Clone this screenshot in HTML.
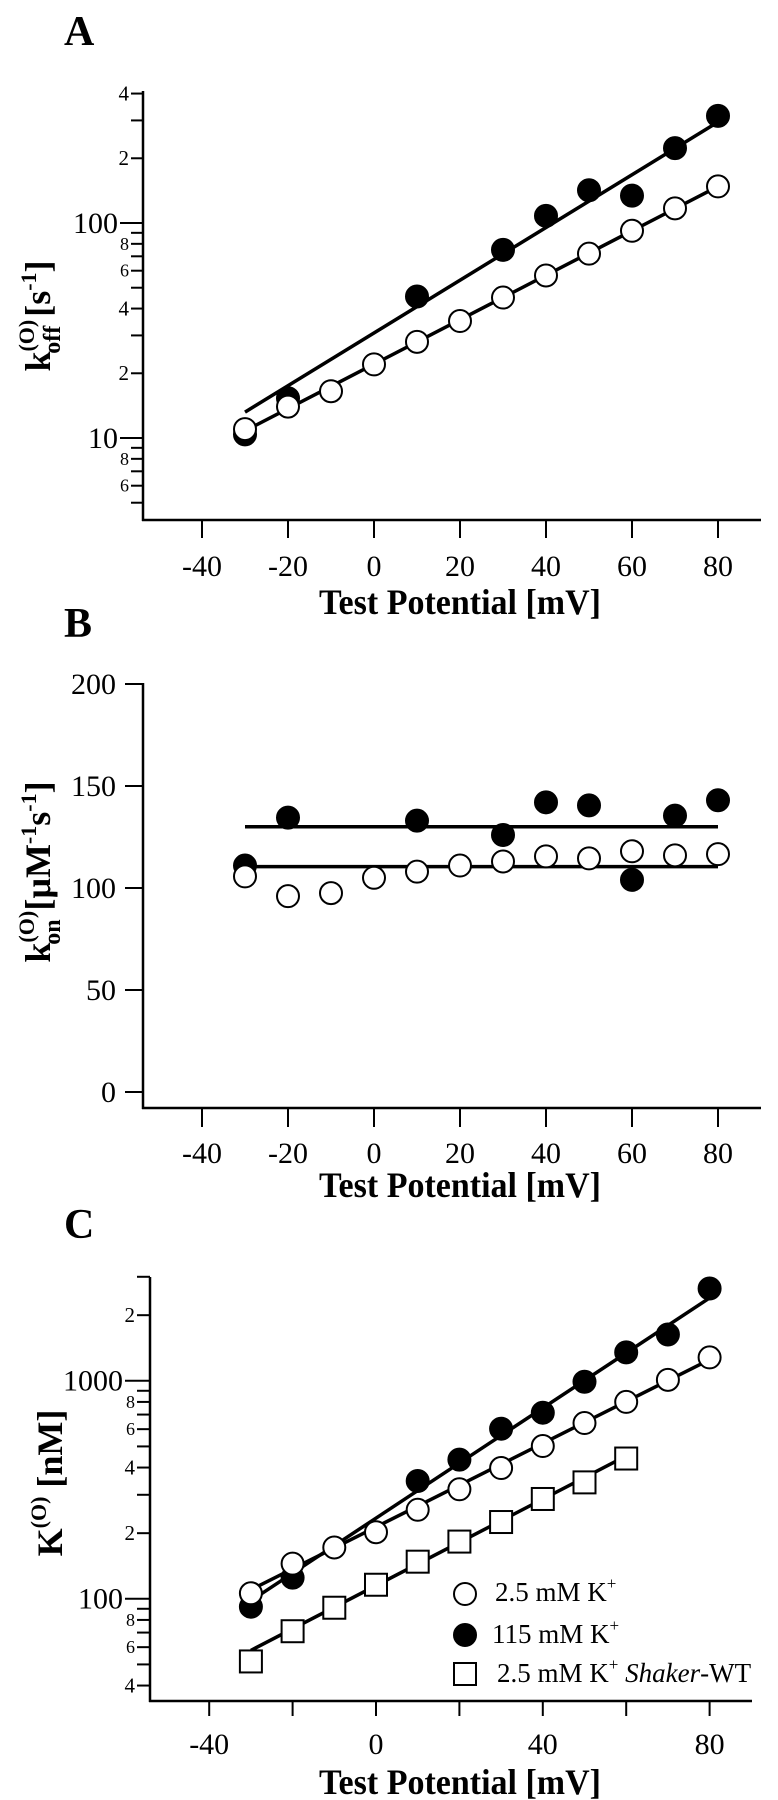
<!DOCTYPE html>
<html><head><meta charset="utf-8"><style>
html,body{margin:0;padding:0;background:#fff;}
svg{display:block;font-family:"Liberation Serif",serif;}
</style></head><body>
<svg id="fig" width="778" height="1800" viewBox="0 0 778 1800" xmlns="http://www.w3.org/2000/svg"></svg>
<script>
// ---- Data ----
const potentials = [-30,-20,-10,0,10,20,30,40,50,60,70,80];
const aOpenVals = [11,14,16.5,22,28,35,45,57,72,92,117,148];
const aFilledX = [-30,-20,10,30,40,50,60,70,80];
const aFilledVals = [10.4,15.3,45.5,75,108,142,134,223,315];
const aOpenFit = [10.8,148];
const aFilledFit = [13.2,295];
const aYTicks = [400,300,200,100,90,80,70,60,50,40,30,20,10,9,8,7,6,5];
const aYLabels = {400:"4",200:"2",100:"100",80:"8",60:"6",40:"4",20:"2",10:"10",8:"8",6:"6"};

const bOpenVals = [105.7,96,97.5,105,108,111,113,115.5,114.5,118,116,116.6];
const bFilledX = [-30,-20,10,30,40,50,60,70,80];
const bFilledVals = [111,134.5,133,126,142,140.5,104,135.5,143];
const bFits = [130,110.5];
const bYTicks = [0,50,100,150,200];

const cOpenVals = [106,145,172,202,256,318,398,502,640,800,1010,1280];
const cFilledX = [-30,-20,10,20,30,40,50,60,70,80];
const cFilledVals = [92,125,347,435,603,714,990,1350,1630,2650];
const cSquareX = [-30,-20,-10,0,10,20,30,40,50,60];
const cSquareVals = [51.6,71,91,116,148,183,225,287,342,440];
const cOpenFit = [110,1250];
const cFilledFit = [98,2400];
const cSquareFit = [58,452];
const cYTicks = [3000,2000,1000,900,800,700,600,500,400,300,200,100,90,80,70,60,50,40];
const cYLabels = {2000:"2",1000:"1000",800:"8",600:"6",400:"4",200:"2",100:"100",80:"8",60:"6",40:"4"};

const xTicksAB = [-40,-20,0,20,40,60,80];
const xTicksC = [-40,-20,0,20,40,60,80];
const xLabelsC = [-40,0,40,80];

const NS="http://www.w3.org/2000/svg";
const svg=document.getElementById('fig');
function el(tag,attrs,parent){const e=document.createElementNS(NS,tag);for(const k in attrs)e.setAttribute(k,attrs[k]);(parent||svg).appendChild(e);return e;}

// ---- axis functions ----
const xA=v=>374+4.3*v;
const yA=v=>438-215*Math.log10(v/10);
const yB=v=>1092-2.04*v;
const xC=v=>376+4.17*v;
const yC=v=>1598.8-218*Math.log10(v/100);

function line(x1,y1,x2,y2,w,name,g){const l=el('line',{x1,y1,x2,y2,stroke:'#000','stroke-width':w},g);return l;}
function txt(x,y,s,size,anchor,name,g,bold){const t=el('text',{x,y,'font-size':size,'text-anchor':anchor||'start','font-weight':bold?'bold':'normal'},g);t.textContent=s;return t;}
function circ(x,y,filled,name,g){const c=el('circle',{cx:x,cy:y,r:11,fill:filled?'#000':'#fff',stroke:'#000','stroke-width':2},g);return c;}
function sq(x,y,name,g){const r=el('rect',{x:x-11,y:y-11,width:22,height:22,fill:'#fff',stroke:'#000','stroke-width':2},g);return r;}
function group(name){const g=el('g',{});return g;}

function xTitle(cx,by,g){const t=el('text',{x:cx,y:by,'font-size':36,'font-weight':'bold','text-anchor':'middle',textLength:282,lengthAdjust:'spacingAndGlyphs'},g);t.textContent='Test Potential [mV]';}

// ================= Panel A =================
(function(){
const g=group('panel-a');
txt(64,45,'A',42,'start','panel-label-a',g,true);
line(143,91,143,521,2.5,'y-axis',g);
line(142,520,761,520,2.5,'x-axis',g);
xTicksAB.forEach(v=>{line(xA(v),520,xA(v),538,2,'x-tick',g);txt(xA(v),576,String(v),30,'middle','x-tick-label',g);});
aYTicks.forEach(v=>{const y=yA(v);const major=(v===10||v===100);line(major?120:131,y,143,y,2,'y-tick',g);
 if(aYLabels[v]){const s=aYLabels[v];const sz=major?30:(s==='8'||s==='6'?18:21);txt(major?118:129,y+sz*0.33,s,sz,'end','y-tick-label',g);}});
line(xA(-30),yA(aOpenFit[0]),xA(80),yA(aOpenFit[1]),3.5,'fit-line-open',g);
line(xA(-30),yA(aFilledFit[0]),xA(80),yA(aFilledFit[1]),3.5,'fit-line-filled',g);
aFilledX.forEach((v,i)=>circ(xA(v),yA(aFilledVals[i]),true,'point-115mm',g));
potentials.forEach((v,i)=>circ(xA(v),yA(aOpenVals[i]),false,'point-2-5mm',g));
const t=el('text',{transform:'translate(50,316) rotate(-90)','text-anchor':'middle','font-weight':'bold','font-size':36},g);

t.innerHTML='k<tspan font-size="22" dy="-16">(O)</tspan><tspan font-size="24" dx="-34" dy="26">off</tspan><tspan dy="-10"> [s</tspan><tspan font-size="22" dy="-14">-1</tspan><tspan dy="14">]</tspan>';
xTitle(460,614,g);
})();

// ================= Panel B =================
(function(){
const g=group('panel-b');
txt(64,637,'B',42,'start','panel-label-b',g,true);
line(143,683,143,1109,2.5,'y-axis',g);
line(142,1108,761,1108,2.5,'x-axis',g);
xTicksAB.forEach(v=>{line(xA(v),1108,xA(v),1127,2,'x-tick',g);txt(xA(v),1163,String(v),30,'middle','x-tick-label',g);});
bYTicks.forEach(v=>{const y=yB(v);line(125,y,143,y,2,'y-tick',g);txt(116,y+10,String(v),30,'end','y-tick-label',g);});
line(xA(-30),yB(bFits[0]),xA(80),yB(bFits[0]),3.5,'fit-line-filled',g);
line(xA(-30),yB(bFits[1]),xA(80),yB(bFits[1]),3.5,'fit-line-open',g);
bFilledX.forEach((v,i)=>circ(xA(v),yB(bFilledVals[i]),true,'point-115mm',g));
potentials.forEach((v,i)=>circ(xA(v),yB(bOpenVals[i]),false,'point-2-5mm',g));
const t=el('text',{transform:'translate(50,872) rotate(-90)','text-anchor':'middle','font-weight':'bold','font-size':36},g);

t.innerHTML='k<tspan font-size="22" dy="-16">(O)</tspan><tspan font-size="24" dx="-34" dy="26">on</tspan><tspan dy="-10"> [μM</tspan><tspan font-size="22" dy="-14">-1</tspan><tspan dy="14">s</tspan><tspan font-size="22" dy="-14">-1</tspan><tspan dy="14">]</tspan>';
xTitle(460,1197,g);
})();

// ================= Panel C =================
(function(){
const g=group('panel-c');
txt(64,1238,'C',42,'start','panel-label-c',g,true);
line(150,1277,150,1702,2.5,'y-axis',g);
line(149,1701,752,1701,2.5,'x-axis',g);
xTicksC.forEach(v=>line(xC(v),1701,xC(v),1716,2,'x-tick',g));
xLabelsC.forEach(v=>txt(xC(v),1754,String(v),30,'middle','x-tick-label',g));
cYTicks.forEach(v=>{const y=yC(v);const major=(v===100||v===1000);line(major?125:137,y,150,y,2,'y-tick',g);
 if(cYLabels[v]){const s=cYLabels[v];const sz=major?30:(s==='8'||s==='6'?18:21);txt(major?123:135,y+sz*0.33,s,sz,'end','y-tick-label',g);}});
line(xC(-30),yC(cFilledFit[0]),xC(80),yC(cFilledFit[1]),3.5,'fit-line-115mm',g);
line(xC(-30),yC(cOpenFit[0]),xC(80),yC(cOpenFit[1]),3.5,'fit-line-2-5mm',g);
line(xC(-30),yC(cSquareFit[0]),xC(60),yC(cSquareFit[1]),3.5,'fit-line-shaker-wt',g);
cFilledX.forEach((v,i)=>circ(xC(v),yC(cFilledVals[i]),true,'point-115mm',g));
potentials.forEach((v,i)=>circ(xC(v),yC(cOpenVals[i]),false,'point-2-5mm',g));
cSquareX.forEach((v,i)=>sq(xC(v),yC(cSquareVals[i]),'point-shaker-wt',g));
const t=el('text',{transform:'translate(62,1483) rotate(-90)','text-anchor':'middle','font-weight':'bold','font-size':36},g);

t.innerHTML='K<tspan font-size="22" dy="-16">(O)</tspan><tspan dy="16"> [nM]</tspan>';
xTitle(460,1794,g);
// legend
const lg=el('g',{},g);


circ(465,1594,false,'legend-marker-2-5mm',lg);
const t1=el('text',{x:495,y:1601,'font-size':27},lg);t1.innerHTML='2.5 mM K<tspan font-size="17" dy="-12">+</tspan>';

circ(465,1635,true,'legend-marker-115mm',lg);
const t2=el('text',{x:492,y:1643,'font-size':27},lg);t2.innerHTML='115 mM K<tspan font-size="17" dy="-12">+</tspan>';

sq(465,1674,'legend-marker-shaker-wt',lg);
const t3=el('text',{x:497,y:1682,'font-size':27},lg);t3.innerHTML='2.5 mM K<tspan font-size="17" dy="-12">+</tspan><tspan dy="12"> </tspan><tspan font-style="italic">Shaker</tspan>-WT';

})();
</script>
</body></html>
